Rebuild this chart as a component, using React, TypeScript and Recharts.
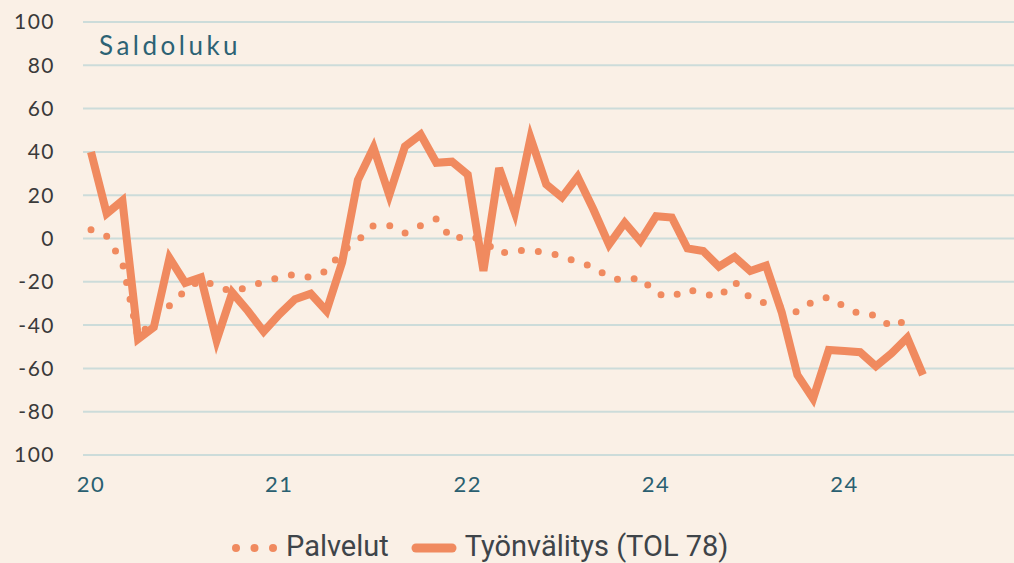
import { LineChart, Line, XAxis, YAxis, CartesianGrid, Legend } from "recharts";

// Monthly balance figures, Jan 2020 onwards
const tyonvalitys = [
    40, 11.5, 17.5, -46.5, -41, -9, -20.5, -18, -47, -25, -33.5, -43,
    -35, -28, -25.5, -33.5, -11, 27, 42, 20, 42.5, 48, 35, 35.5,
    29.5, -15, 32.5, 12, 46.5, 25, 19, 28.5, 13.5, -2.8, 7.3, -1.2,
    10.3, 9.7, -4.6, -5.8, -13, -8.5, -15, -12.5, -34, -63, -74, -51.5,
    -52, -52.5, -59, -53, -45.8, -63,
];

const palvelut = [
    4, 1, -11, -46, -37, -31, -24, -19, -22, -24.5, -22.5, -20,
    -18, -16.5, -18, -15, -6, -1, 6, 6, 2.5, 6, 9, -0.5,
    1.5, -1, -7, -5.5, -5.5, -6.5, -8, -11, -13, -18, -19.5, -18,
    -25.5, -27, -23.5, -25.5, -27, -20, -27.5, -30, -31.5, -34, -29, -27,
    -31.5, -35, -35.5, -41, -37.5,
];

const xTicks = [0, 12, 24, 36, 48];
const xTickLabels = ["20", "21", "22", "24", "24"];
const yTicks = [-100, -80, -60, -40, -20, 0, 20, 40, 60, 80, 100];
const yTickLabels = ["100", "-80", "-60", "-40", "-20", "0", "20", "40", "60", "80", "100"];

const data = tyonvalitys.map((v, i) => ({
    m: i,
    tyo: v,
    palv: i < palvelut.length ? palvelut[i] : null,
}));

const ORANGE = "#F08A5F";
const BG = "#FAF0E6";

function ChartLegend() {
    return (
        <div
            style={{
                height: 58,
                boxSizing: "border-box",
                paddingTop: 24,
                paddingLeft: 232,
                display: "flex",
                alignItems: "center",
                fontFamily: "Roboto, sans-serif",
                fontSize: 29,
                lineHeight: 1,
                color: "#3E4449",
            }}
        >
            <svg width={46} height={12} style={{ marginRight: 8, marginTop: 3 }}>
                {[4, 22.5, 41].map((cx) => (
                    <circle key={cx} cx={cx} cy={6} r={4} fill={ORANGE} />
                ))}
            </svg>
            <span>Palvelut</span>
            <svg width={46} height={12} style={{ marginLeft: 22, marginRight: 8, marginTop: 3 }}>
                <line x1={5} y1={6} x2={41} y2={6} stroke={ORANGE} strokeWidth={9} strokeLinecap="round" />
            </svg>
            <span>Työnvälitys (TOL 78)</span>
        </div>
    );
}

export default function App() {
    return (
        <div style={{ position: "absolute", left: 0, top: 0, width: 1014, height: 563, background: BG }}>
            <div
                style={{
                    position: "absolute",
                    left: 99,
                    top: 29,
                    fontFamily: "Lato, sans-serif",
                    fontSize: 26,
                    letterSpacing: 3.5,
                    color: "#2C6274",
                    zIndex: 1,
                }}
            >
                Saldoluku
            </div>
            <LineChart width={1014} height={563} data={data} margin={{ top: 22, right: 0, bottom: 0, left: 0 }}>
                <CartesianGrid horizontal vertical={false} stroke="#CCDCDA" strokeWidth={2} />
                <XAxis
                    type="number"
                    dataKey="m"
                    domain={[-0.51, 58.8]}
                    allowDataOverflow
                    ticks={xTicks}
                    tickFormatter={(v) => xTickLabels[xTicks.indexOf(v)] ?? ""}
                    axisLine={false}
                    tickLine={false}
                    tickSize={0}
                    tickMargin={21}
                    height={50}
                    tick={{ fill: "#2A5F70", fontSize: 22, fontFamily: "Lato, sans-serif", letterSpacing: 1.5 }}
                />
                <YAxis
                    width={83}
                    domain={[-100, 100]}
                    ticks={yTicks}
                    interval={0}
                    tickFormatter={(v) => yTickLabels[yTicks.indexOf(v)] ?? ""}
                    axisLine={false}
                    tickLine={false}
                    tickSize={0}
                    tickMargin={28}
                    tick={{ fill: "#3A3A3A", fontSize: 21, fontFamily: "Lato, sans-serif", letterSpacing: 1.5 }}
                />
                <Legend verticalAlign="bottom" height={58} content={() => <ChartLegend />} />
                <Line
                    type="linear"
                    dataKey="tyo"
                    stroke={ORANGE}
                    strokeWidth={8}
                    dot={false}
                    activeDot={false}
                    isAnimationActive={false}
                />
                <Line
                    type="linear"
                    dataKey="palv"
                    stroke={ORANGE}
                    strokeWidth={7}
                    strokeDasharray="0 17"
                    strokeLinecap="round"
                    dot={false}
                    activeDot={false}
                    connectNulls={false}
                    isAnimationActive={false}
                />
            </LineChart>
        </div>
    );
}
